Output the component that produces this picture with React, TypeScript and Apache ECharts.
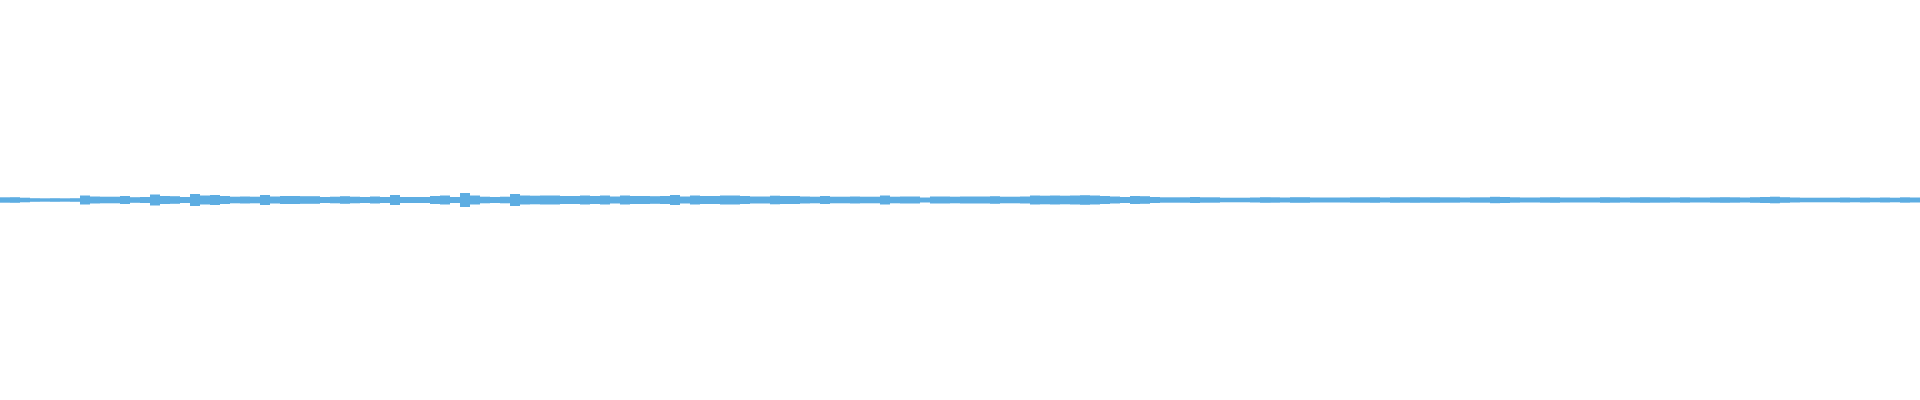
import React, { useEffect, useRef } from "react";
import * as echarts from "echarts";

// Peak amplitude of the waveform, one value per 10-sample block (192 blocks),
// in level units where the full scale is ±200.
const peaks: number[] = [
  2.7, 2.8, 2.3, 1.8, 1.7, 1.8, 1.7, 1.8, 4.5, 3.5,
  3.3, 3.3, 4.0, 2.8, 3.0, 5.5, 4.0, 3.8, 3.0, 6.0,
  4.5, 5.0, 4.0, 3.3, 3.5, 3.3, 5.0, 3.5, 4.0, 4.0,
  3.8, 3.8, 3.0, 3.3, 3.8, 3.3, 3.0, 3.5, 3.0, 5.0,
  3.0, 3.0, 3.0, 4.0, 4.5, 3.0, 7.0, 4.5, 3.3, 3.0,
  3.3, 6.0, 4.5, 4.3, 4.5, 4.5, 4.0, 4.0, 4.5, 4.0,
  4.5, 3.5, 4.5, 4.0, 4.0, 3.8, 4.0, 5.0, 3.5, 4.5,
  4.0, 4.0, 4.5, 4.5, 4.0, 3.5, 3.5, 4.3, 4.0, 4.0,
  3.5, 3.3, 4.0, 3.3, 3.3, 3.5, 3.3, 3.3, 4.5, 3.3,
  3.5, 3.5, 2.5, 3.5, 3.5, 3.3, 3.5, 3.5, 3.5, 3.8,
  3.3, 3.3, 3.5, 4.5, 4.3, 4.5, 4.3, 4.5, 4.8, 4.5,
  4.0, 3.5, 3.0, 4.0, 3.8, 3.0, 2.7, 2.7, 2.7, 3.0,
  2.7, 2.7, 2.3, 2.3, 2.3, 2.5, 2.8, 2.7, 2.5, 2.8,
  2.8, 2.5, 2.5, 2.5, 2.5, 2.7, 2.7, 2.8, 2.5, 2.8,
  2.7, 2.8, 2.7, 2.8, 2.7, 2.7, 2.5, 2.7, 2.7, 3.2,
  3.0, 2.7, 2.5, 2.5, 2.7, 2.8, 2.5, 2.5, 2.5, 2.5,
  2.8, 2.7, 2.5, 2.7, 2.8, 2.7, 2.7, 2.5, 2.7, 2.5,
  2.5, 2.7, 2.8, 2.7, 2.5, 2.8, 3.0, 3.3, 2.8, 2.5,
  2.3, 2.3, 2.3, 2.3, 2.5, 2.3, 2.5, 2.3, 2.5, 2.3,
  2.7, 2.5,
];

const blocks: string[] = peaks.map((_, i) => String(i));
const WAVE_COLOR = "#5dade2";

export default function App() {
  const ref = useRef<HTMLDivElement>(null);

  useEffect(() => {
    if (!ref.current) return;
    const chart = echarts.init(ref.current, null, { renderer: "svg" });
    chart.setOption({
      animation: false,
      backgroundColor: "#ffffff",
      grid: { left: 0, right: 0, top: 0, bottom: 0, containLabel: false },
      xAxis: {
        type: "category",
        data: blocks,
        show: false,
        boundaryGap: true,
      },
      yAxis: {
        type: "value",
        min: -200,
        max: 200,
        show: false,
      },
      series: [
        {
          type: "bar",
          stack: "wave",
          data: peaks,
          barWidth: "100%",
          barCategoryGap: 0,
          itemStyle: { color: WAVE_COLOR },
          silent: true,
        },
        {
          type: "bar",
          stack: "wave",
          data: peaks.map((v) => -v),
          barWidth: "100%",
          barCategoryGap: 0,
          itemStyle: { color: WAVE_COLOR },
          silent: true,
        },
      ],
    });
    return () => chart.dispose();
  }, []);

  return (
    <div
      ref={ref}
      style={{ position: "fixed", left: 0, top: 0, width: 1920, height: 400, background: "#fff" }}
    />
  );
}
